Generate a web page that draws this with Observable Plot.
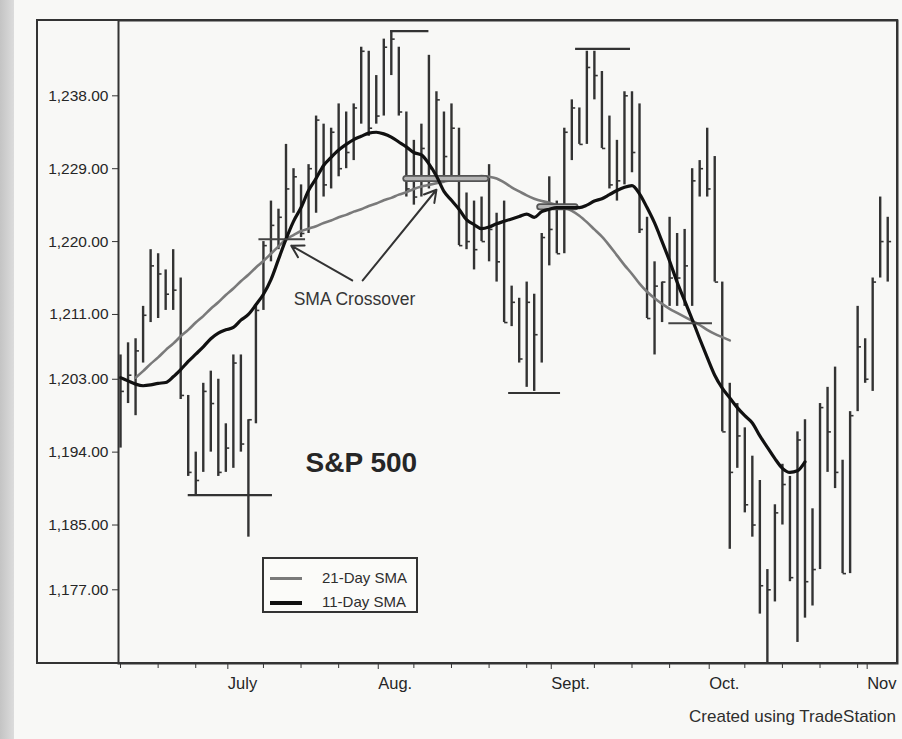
<!DOCTYPE html>
<html>
<head>
<meta charset="utf-8">
<script src="https://cdn.jsdelivr.net/npm/d3@7"></script>
<script src="https://cdn.jsdelivr.net/npm/@observablehq/plot@0.6"></script>
<style>
  html, body { margin: 0; padding: 0; background: #f8f8f6; }
  #wrap { position: relative; width: 902px; height: 739px; overflow: hidden;
          font-family: "Liberation Sans", Arial, sans-serif; color: #2a2a2a; }
  #strip { position: absolute; left: 0; top: 0; width: 14px; height: 739px;
           background: linear-gradient(to right, #c4c4c4, #dcdcdc); }
  #chart { position: absolute; left: 0; top: 0; }
  #legend { position: absolute; left: 262px; top: 557px; width: 152px; height: 52px;
            border: 2px solid #333; background: #fbfbf9; z-index: 2; }
  #legend .sw { position: absolute; left: 6px; width: 32px; }
  #legend .tx { position: absolute; left: 58px; font-size: 15px; line-height: 18px; color: #2e2e2e; white-space: nowrap; }
  #caption { position: absolute; right: 6px; top: 707px; font-size: 17px; color: #2e2e2e; }
</style>
</head>
<body>
<div id="wrap">
  <div id="strip"></div>
  <div id="chart"></div>
  <div id="legend">
    <div class="sw" style="top:18px;height:3px;background:#7a7a7a"></div>
    <div class="tx" style="top:10px">21-Day SMA</div>
    <div class="sw" style="top:42px;height:3.5px;background:#111"></div>
    <div class="tx" style="top:34px">11-Day SMA</div>
  </div>
  <div id="caption">Created using TradeStation</div>
</div>
<script>
// ---- Daily S&P 500 bars (trading-day index 0 = Jun 13) ----
const high = [1206,1207.5,1208,1212,1219,1218.5,1216.5,1219,1215.5,1201,
  1194,1202.5,1204,1203,1197.5,1206,1206,1198,1212,1220,
  1225,1224,1232,1229,1227,1229.5,1235.5,1234.5,1234,1237,
  1236,1237,1244,1243.5,1240.5,1245,1246,1244,1236,1232.5,
  1234.5,1243,1238.5,1236,1237,1234,1226,1225,1225.5,1229.5,
  1223.5,1225,1214.5,1213,1215,1213.5,1221,1228,1225,1234,
  1237.5,1236.5,1243.5,1243.5,1241,1235.5,1232.5,1238.5,1238.5,1237,
  1223,1217.5,1215,1223,1221,1221.5,1229,1230,1234,1230.5,
  1215,1202.5,1200,1197,1193.5,1190.5,1179.5,1187.5,1192.5,1191,
  1196.5,1198,1187,1200,1202,1204.5,1193,1199,1212,1208,
  1215.5,1225.5,1223];
const low = [1194.5,1200,1198.5,1205,1210,1210.5,1211.5,1211.5,1200.5,1191,
  1188.6,1191.5,1194,1191,1191.5,1192,1194,1183.5,1197.5,1211.5,
  1217.5,1219,1220,1223.5,1220.5,1221,1223.5,1225.5,1226.5,1228,
  1229,1230,1234.5,1233,1234.5,1235.5,1240.5,1235.5,1225.5,1224.5,
  1225.5,1226.5,1228,1227.5,1227.5,1219.5,1219,1216.5,1220,1217.5,
  1215,1210,1209.5,1205,1202,1201.5,1205,1217,1218.5,1218.5,
  1230,1232,1232,1237.5,1231.5,1226.5,1225,1227,1228.5,1221,
  1210.5,1206,1210,1212,1212,1212,1212,1225.5,1225.5,1215,
  1196.5,1182,1192,1186.5,1183.5,1174,1168,1175.5,1185,1178,
  1170.5,1173.5,1175,1179.5,1191.5,1189.5,1179,1179,1199,1202.5,
  1201.5,1215.5,1215];
const close = [1201.5,1203.5,1206.5,1210.9,1217,1216,1213.5,1214,1201,1191.5,
  1190.5,1201.5,1200,1191.5,1194.5,1205,1195,1198,1211.5,1219.5,
  1222,1223,1226.5,1228,1221,1229,1235,1227,1233.5,1229,
  1231,1236.5,1243.5,1234,1235.5,1244,1245,1236,1226.5,1225.5,
  1231.5,1229,1237.5,1230.5,1234,1219.5,1220,1219,1220,1221.5,
  1217.5,1210,1212.5,1205.5,1212.5,1208.5,1220.5,1221.5,1218.5,1233.5,
  1236.5,1232,1241.5,1240.5,1231.5,1227,1227.5,1238,1231,1221.5,
  1210.5,1214.5,1215,1215.5,1215.5,1217,1227.5,1229,1226.5,1215,
  1196.5,1191.5,1196,1187.5,1185,1177.5,1177,1186.5,1190,1178.5,
  1195.5,1178,1179.5,1199.5,1196.5,1191.5,1179,1198.5,1207,1203,
  1215,1220,1220];

// ---- Moving averages ----
const sma11Start = 0;
const sma11 = [1203.2,1202.8,1202.4,1202.2,1202.3,1202.5,1202.6,1203.3,1204.2,1205.2,
  1206.1,1207,1208,1208.7,1209.1,1209.4,1210.3,1211,1212.2,1213.5,
  1215.3,1217.8,1220.3,1222.5,1224.2,1226.3,1227.8,1229.4,1230.4,1231.3,
  1232,1232.6,1233,1233.4,1233.5,1233.3,1232.9,1232.3,1231.7,1231,
  1230.7,1229.6,1228.1,1226.2,1225.1,1224,1222.7,1222.1,1221.6,1221.8,
  1222.2,1222.5,1222.8,1223.1,1223.4,1223,1223.7,1224,1224.2,1224.2,
  1224.2,1224.2,1224.5,1225,1225.3,1225.8,1226.3,1226.7,1226.9,1225.9,
  1224.2,1222.3,1220,1217.6,1215,1212.7,1210.4,1208,1205.7,1203.5,
  1201.9,1200.7,1199.5,1198.5,1197.6,1196,1194.6,1193.2,1192,1191.5,
  1191.7,1192.8];
const sma21Start = 2;
const sma21 = [1203.2,1204.0,1204.9,1205.7,1206.6,1207.4,1208.3,1209.1,1210.0,1210.8,
  1211.7,1212.5,1213.4,1214.2,1215.1,1215.9,1216.8,1217.6,1218.5,1219.4,
  1220.3,1220.8,1221.3,1221.6,1221.9,1222.3,1222.6,1223,1223.3,1223.7,
  1224,1224.4,1224.7,1225.1,1225.4,1225.8,1226.1,1226.5,1226.8,1227,
  1227.2,1227.4,1227.6,1227.7,1227.9,1228,1228.1,1228,1227.8,1227.3,
  1226.7,1226.2,1225.7,1225.3,1225,1224.8,1224.5,1224.2,1223.8,1223.2,
  1222.4,1221.5,1220.6,1219.5,1218.3,1217.1,1216,1214.8,1213.8,1213,
  1212.3,1211.7,1211.2,1210.7,1210.2,1209.7,1209.1,1208.6,1208.2,1207.8];

// ---- Axis ticks ----
const yTicks = [1177, 1185, 1194, 1203, 1211, 1220, 1229, 1238];
const weekTicks = [0, 5, 10, 19, 24, 29, 39, 44, 49, 54, 63, 68, 73, 83, 88, 93, 98];
const monthTicks = [14, 34, 57, 78, 99];
const monthLabels = ["July", "Aug.", "Sept.", "Oct.", "Nov"];

// ---- Annotation levels (swing highs/lows and crossovers) ----
const extremeLevel = [1188.7, 1246.0, 1201.3, 1243.8];
const extremeFrom  = [9.0, 35.9, 51.6, 60.5];
const extremeTo    = [20.2, 41.0, 58.5, 67.8];
const crossLevel = [1220.3, 1227.8, 1224.3, 1209.9];
const crossFrom  = [18.4, 38.0, 55.8, 72.9];
const crossTo    = [24.6, 48.6, 60.5, 78.7];

const noteText = ["SMA Crossover", "S&P 500"];
const noteX = [31.1, 24.6];
const noteY = [1212.9, 1192.7];
const arrowFromX = [30.8, 32.2];
const arrowFromY = [1215.2, 1215.2];
const arrowToX = [22.7, 42.0];
const arrowToY = [1219.5, 1226.4];

// ---- Build tables ----
const bars = high.map((h, i) => ({i, h, l: low[i], c: close[i]}));
const s11 = sma11.map((v, k) => ({i: k + sma11Start, v}));
const s21 = sma21.map((v, k) => ({i: k + sma21Start, v}));
const extremes = extremeLevel.map((y, k) => ({y, x1: extremeFrom[k], x2: extremeTo[k]}));
const crosses = crossLevel.map((y, k) => ({y, x1: crossFrom[k], x2: crossTo[k]}));
const thinCross = crosses.filter((d, k) => k === 0 || k === 3);
const capsCross = crosses.filter((d, k) => k === 1 || k === 2);
const arrows = arrowFromX.map((x1, k) => ({x1, y1: arrowFromY[k], x2: arrowToX[k], y2: arrowToY[k]}));
const notes = noteText.map((t, k) => ({t, x: noteX[k], y: noteY[k]}));

const ink = "#333";
const chart = Plot.plot({
  width: 902,
  height: 700,
  marginTop: 20,
  marginLeft: 118,
  marginRight: 5,
  marginBottom: 37,
  style: {background: "transparent", color: "#262626", fontFamily: "Liberation Sans, Arial, sans-serif"},
  x: {type: "linear", domain: [-0.27, 103.3]},
  y: {domain: [1167.9, 1247.3]},
  marks: [
    Plot.ruleY(extremes, {y: "y", x1: "x1", x2: "x2", stroke: ink, strokeWidth: 2.2}),
    Plot.ruleX(bars, {x: "i", y1: "l", y2: "h", stroke: ink, strokeWidth: 2.4}),
    Plot.link(bars, {x1: "i", x2: d => d.i + 0.45, y1: "c", y2: "c", stroke: ink, strokeWidth: 1.6}),
    Plot.line(s21, {x: "i", y: "v", stroke: "#7a7a7a", strokeWidth: 2.6, curve: "monotone-x"}),
    Plot.ruleY(capsCross, {y: "y", x1: "x1", x2: "x2", stroke: "#555", strokeWidth: 7, strokeLinecap: "round"}),
    Plot.ruleY(capsCross, {y: "y", x1: "x1", x2: "x2", stroke: "#b4b4b4", strokeWidth: 3.5, strokeLinecap: "round"}),
    Plot.line(s11, {x: "i", y: "v", stroke: "#111", strokeWidth: 3.2, curve: "monotone-x"}),
    Plot.ruleY(thinCross, {y: "y", x1: "x1", x2: "x2", stroke: "#444", strokeWidth: 2}),
    Plot.arrow(arrows, {x1: "x1", y1: "y1", x2: "x2", y2: "y2", stroke: ink, strokeWidth: 2, headLength: 10}),
    Plot.text(notes.slice(0, 1), {x: "x", y: "y", text: "t", fontSize: 17.5, fill: "#363636"}),
    Plot.text(notes.slice(1), {x: "x", y: "y", text: "t", fontSize: 28, fontWeight: "bold", fill: "#262626", textAnchor: "start"}),
    Plot.frame({stroke: ink, strokeWidth: 2}),
    Plot.axisY({ticks: yTicks, tickFormat: d3.format(",.2f"), tickSize: 6, tickPadding: 4, fontSize: 15.5, label: null, stroke: ink}),
    Plot.axisX({ticks: weekTicks, tickFormat: () => "", tickSize: 5, label: null, stroke: ink}),
    Plot.axisX({ticks: monthTicks, tickFormat: d => monthLabels[monthTicks.indexOf(d)], tickSize: 6, tickPadding: 8,
                textAnchor: "start", dx: 2, fontSize: 16.5, label: null, stroke: ink})
  ]
});

d3.select(chart).append("rect")
  .attr("x", 37).attr("y", 20).attr("width", 860).attr("height", 643)
  .attr("fill", "none").attr("stroke", ink).attr("stroke-width", 2);

document.getElementById("chart").appendChild(chart);
</script>
</body>
</html>
